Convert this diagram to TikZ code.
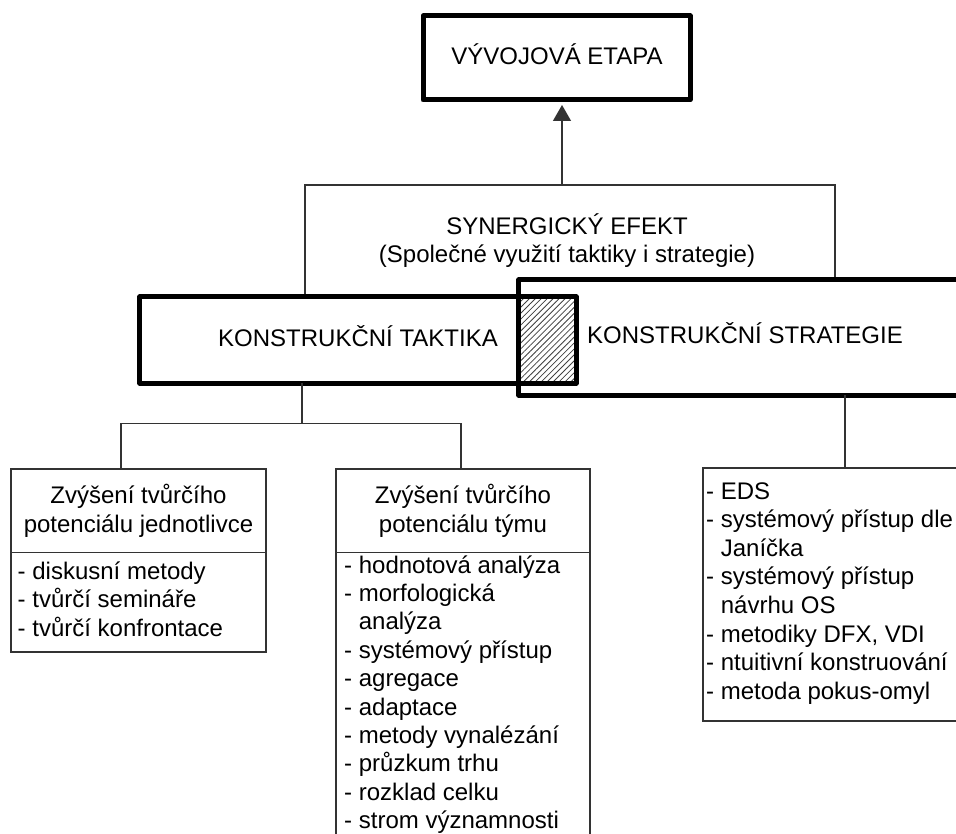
\documentclass[tikz,border=0pt]{standalone}
\usepackage{fontspec}
\setmainfont{Liberation Sans}
\usetikzlibrary{arrows.meta,patterns.meta}
\tikzset{
  heavy/.style={draw=black, line width=5pt, line join=round},
  whitebox/.style={fill=white, inner sep=0pt},
  thinline/.style={draw=black!80, line width=1.3pt},
  txt/.style={inner sep=0pt, font=\fontsize{24}{28.6}\selectfont},
}
\begin{document}
\begin{tikzpicture}[x=1pt,y=-1pt]
\useasboundingbox (0,0) rectangle (956,834);
\clip (0,0) rectangle (956,834);

% synergy frame, partly hidden behind the tactic and strategy boxes
\node[thinline, inner sep=0pt, minimum width=530pt, minimum height=155pt] (syn) at (570,262.5) {};

% top stage box
\node[heavy, fill=white, inner sep=0pt, minimum width=267pt, minimum height=84pt] (etapa) at (556.5,58) {};

% tactic and strategy boxes: fills first, overlap hatch, then outlines
\node[whitebox, minimum width=436pt, minimum height=86pt] (tak) at (358,340) {};
\node[whitebox, minimum width=500pt, minimum height=115pt] (str) at (769,337.5) {};
\path[pattern={Lines[angle=45,distance=4.2pt,line width=0.8pt]}, pattern color=black!75]
  (str.west |- tak.north) rectangle (tak.south east);
\draw[heavy] (tak.north west) rectangle (tak.south east);
\draw[heavy] (str.north west) rectangle (str.south east);

% lower boxes
\node[thinline, fill=white, inner sep=0pt, minimum width=255pt, minimum height=183pt] (ind) at (138.5,560.5) {};
\node[thinline, fill=white, inner sep=0pt, minimum width=254pt, minimum height=431pt] (team) at (463,684.5) {};
\node[thinline, fill=white, inner sep=0pt, minimum width=300pt, minimum height=253pt] (rb) at (853,594.5) {};
\draw[thinline] ([yshift=-84pt]ind.north west) -- ([yshift=-84pt]ind.north east);
\draw[thinline] ([yshift=-84pt]team.north west) -- ([yshift=-84pt]team.north east);

% connectors
\coordinate (synfoot) at ([xshift=-8pt]syn.north);
\draw[thinline, -{Triangle[width=18pt,length=16pt]}, shorten >=2.5pt] (synfoot) -- (synfoot |- etapa.south);
\coordinate (tkfoot) at ([xshift=-56pt]tak.south);
\coordinate (fork) at ([yshift=-40pt]tkfoot);
\draw[thinline] (tkfoot) -- (fork);
\draw[thinline] ([xshift=-17.5pt]ind.north) |- (fork) -| ([xshift=-2pt]team.north);
\coordinate (stfoot) at ([xshift=76pt]str.south);
\draw[thinline] (stfoot) -- (stfoot |- rb.north);

% texts
\node[txt, anchor=base] (etapa-t) at (557,65) {VÝVOJOVÁ ETAPA};
\node[txt, anchor=base] (syn-t1) at (567,235) {SYNERGICKÝ EFEKT};
\node[txt, anchor=base] (syn-t2) at (567,263) {(Společné využití taktiky i strategie)};
\node[txt, anchor=base] (tak-t) at (358,347) {KONSTRUKČNÍ TAKTIKA};
\node[txt, anchor=base west] (str-t) at (587,344) {KONSTRUKČNÍ STRATEGIE};

\node[txt, anchor=base] (ind-h1) at (138.5,503) {Zvýšení tvůrčího};
\node[txt, anchor=base] (ind-h2) at (138.5,532) {potenciálu jednotlivce};
\foreach \s [count=\i from 0] in {{- diskusní metody},{- tvůrčí semináře},{- tvůrčí konfrontace}}
  \node[txt, anchor=base west] (ind-\i) at (17.5,{579+28.5*\i}) {\s};

\node[txt, anchor=base] (team-h1) at (463,503) {Zvýšení tvůrčího};
\node[txt, anchor=base] (team-h2) at (463,532) {potenciálu týmu};
\foreach \s [count=\i from 0] in {{- hodnotová analýza},{- morfologická},{\phantom{-~}analýza},
    {- systémový přístup},{- agregace},{- adaptace},{- metody vynalézání},
    {- průzkum trhu},{- rozklad celku},{- strom významnosti}}
  \node[txt, anchor=base west] (team-\i) at (344,{573+28.4*\i}) {\s};

\foreach \s [count=\i from 0] in {{- EDS},{- systémový přístup dle},{\phantom{-~}Janíčka},
    {- systémový přístup},{\phantom{-~}návrhu OS},{- metodiky DFX, VDI},
    {- ntuitivní konstruování},{- metoda pokus-omyl}}
  \node[txt, anchor=base west] (rb-\i) at (706,{499+28.6*\i}) {\s};
\end{tikzpicture}
\end{document}
